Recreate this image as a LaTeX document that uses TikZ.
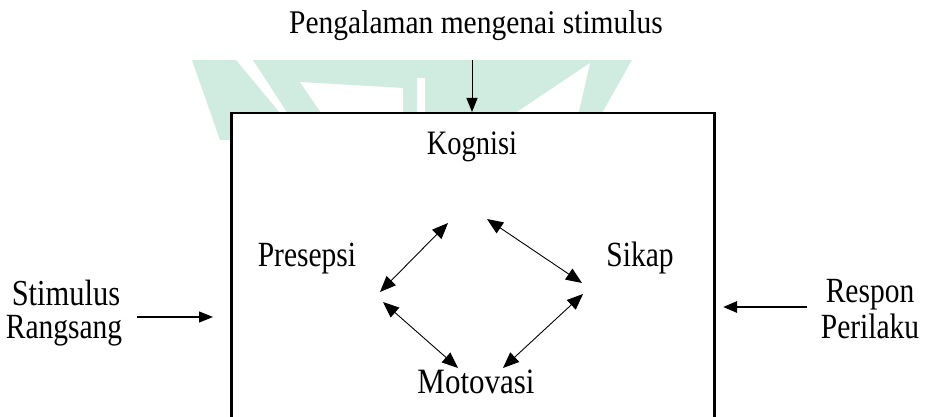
\documentclass[tikz,border=0pt]{standalone}
\usepackage{fontspec}
\usepackage{graphicx}
\setmainfont{Liberation Serif}
\usetikzlibrary{arrows.meta}
\definecolor{wmgreen}{RGB}{208,236,225}
\newcommand{\stretchtxt}[2][1.2]{\scalebox{1}[#1]{#2}}
\begin{document}
\begin{tikzpicture}[x=1pt,y=-1pt,
  lbl/.style={font=\fontsize{29.5}{34}\selectfont, inner sep=0pt, anchor=base},
  bigbox/.style={draw, line width=2.5pt, fill=white, minimum width=483pt, minimum height=330pt, anchor=north west, inner sep=0pt},
  arr/.style={-{Triangle[length=14pt,width=11pt]}},
  dbl/.style={{Triangle[length=16pt,width=13pt]}-{Triangle[length=16pt,width=13pt]}, line width=0.9pt},
  wm/.style={fill=wmgreen}]
\useasboundingbox (0,0) rectangle (935,417);
\clip (0,0) rectangle (935,417);
% faint watermark
\fill[wm] (192,60) -- (236,60) -- (290,125) -- (232,140) -- (220,140) -- cycle;
\fill[wm] (253,60) -- (632,60) -- (598,120) -- (292,120) -- cycle;
\fill[white] (300,82) -- (403,88) -- (403,120) -- (326,120) -- cycle;
\fill[white] (417,78) -- (425,78) -- (425,120) -- (417,120) -- cycle;
\fill[white] (505,120) -- (590,63) -- (577,120) -- cycle;
% box
\node[bigbox] (box) at (230,112) {};
% labels
\node[lbl] (peng) at (476,34) {\stretchtxt[1.12]{Pengalaman mengenai stimulus}};
\node[lbl, font=\fontsize{28.5}{34}\selectfont] (kog) at (472,155) {\stretchtxt{Kognisi}};
\node[lbl] (pre) at (307,266) {\stretchtxt{Presepsi}};
\node[lbl] (sik) at (640,266) {\stretchtxt{Sikap}};
\node[lbl, font=\fontsize{31}{36}\selectfont] (mot) at (476,393) {\stretchtxt[1.15]{Motovasi}};
\node[lbl, font=\fontsize{30.5}{36}\selectfont] (sti) at (66,305) {\stretchtxt{Stimulus}};
\node[lbl] (ran) at (64,338) {\stretchtxt{Rangsang}};
\node[lbl] (res) at (870,302) {\stretchtxt{Respon}};
\node[lbl] (per) at (870,338) {\stretchtxt{Perilaku}};
% outer arrows
\coordinate (ts) at (472,60);
\draw[arr, line width=0.9pt] (ts) -- (ts |- box.north);
\coordinate (ls) at (137,317);
\coordinate (le) at (213,317);
\draw[arr, line width=1.3pt] (ls) -- (le);
\coordinate (rs) at (807,307);
\coordinate (re) at (723,307);
\draw[arr, line width=2.6pt] (rs) -- (re);
% inner diamond arrows
\coordinate (a1) at (380,292);
\coordinate (a2) at (448,223);
\coordinate (b1) at (487,219);
\coordinate (b2) at (582,283);
\coordinate (c1) at (383,302);
\coordinate (c2) at (458,368);
\coordinate (d1) at (583,294);
\coordinate (d2) at (503,368);
\draw[dbl] (a1) -- (a2);
\draw[dbl] (b1) -- (b2);
\draw[dbl] (c1) -- (c2);
\draw[dbl] (d1) -- (d2);
\end{tikzpicture}
\end{document}
